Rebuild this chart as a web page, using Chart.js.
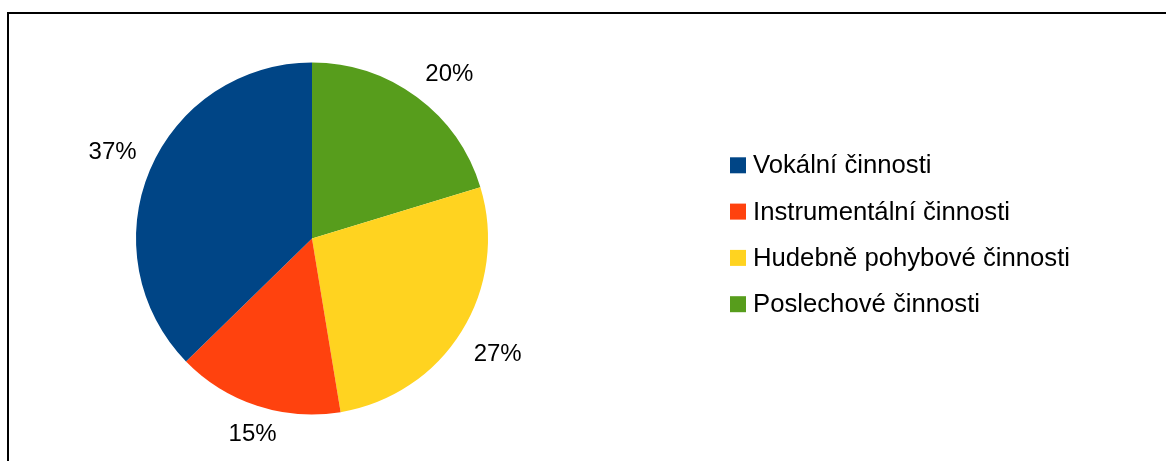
<!DOCTYPE html>
<html>
<head>
<meta charset="utf-8">
<script src="https://cdn.jsdelivr.net/npm/chart.js@4/dist/chart.umd.min.js"></script>
<style>
html,body{margin:0;padding:0;background:#fff;}
#wrap{position:relative;width:1166px;height:461px;}
canvas{display:block;}
</style>
</head>
<body>
<div id="wrap"><canvas id="c" width="1166" height="461"></canvas></div>
<script>
// Data (clockwise from top, as drawn)
const categories = ["Poslechové činnosti", "Hudebně pohybové činnosti", "Instrumentální činnosti", "Vokální činnosti"];
const values = [20.3, 27.1, 15.3, 37.3];
const colors = ["#579d1c", "#ffd320", "#ff420e", "#004586"];
// Legend order (top to bottom)
const legendOrder = ["Vokální činnosti", "Instrumentální činnosti", "Hudebně pohybové činnosti", "Poslechové činnosti"];

const FONT = '"Liberation Sans", Arial, sans-serif';

const framePlugin = {
  id: 'frame',
  beforeDraw(chart) {
    const ctx = chart.ctx;
    ctx.save();
    ctx.fillStyle = '#fff';
    ctx.fillRect(0, 0, chart.width, chart.height);
    ctx.fillStyle = '#000';
    ctx.fillRect(7, 12, chart.width - 7, 2);
    ctx.fillRect(7, 12, 2, chart.height - 12);
    ctx.restore();
  }
};

const labelPlugin = {
  id: 'outLabels',
  afterDatasetsDraw(chart) {
    const ctx = chart.ctx;
    const meta = chart.getDatasetMeta(0);
    const data = chart.data.datasets[0].data;
    const total = data.reduce((a, b) => a + b, 0);
    const fs = 24;
    const asc = 0.905 * fs, desc = 0.212 * fs, H = asc + desc;
    ctx.save();
    ctx.font = fs + 'px ' + FONT;
    ctx.fillStyle = '#000';
    ctx.textAlign = 'left';
    ctx.textBaseline = 'alphabetic';
    // [horizontal, vertical] position of the anchor within the text box
    const align = [[0.5,1],[0,1],[0,0.5],[0,0],[0.5,0],[1,0],[1,0.5],[1,1]];
    meta.data.forEach((arc, i) => {
      const mid = (arc.startAngle + arc.endAngle) / 2;
      let theta = (mid + Math.PI / 2) * 180 / Math.PI;
      theta = ((theta % 360) + 360) % 360;
      const sector = Math.round(theta / 45) % 8;
      const txt = Math.round(data[i] / total * 100) + '%';
      const w = ctx.measureText(txt).width;
      const d = arc.outerRadius + 14.3;
      const ax = arc.x + Math.cos(mid) * d;
      const ay = arc.y + Math.sin(mid) * d;
      const [hx, vy] = align[sector];
      const x = ax - hx * w;
      const top = ay - vy * H;
      ctx.fillText(txt, x, top + asc);
    });
    ctx.restore();
  }
};

const legendPlugin = {
  id: 'customLegend',
  afterDraw(chart) {
    const ctx = chart.ctx;
    ctx.save();
    ctx.font = '25.7px ' + FONT;
    ctx.textBaseline = 'middle';
    ctx.textAlign = 'left';
    legendOrder.forEach((name, k) => {
      const i = chart.data.labels.indexOf(name);
      const y = 165.3 + k * 46.3;
      ctx.fillStyle = chart.data.datasets[0].backgroundColor[i];
      ctx.fillRect(730, y - 8, 16, 16);
      ctx.fillStyle = '#000';
      ctx.fillText(name, 753, y + 1);
    });
    ctx.restore();
  }
};

new Chart(document.getElementById('c'), {
  type: 'pie',
  data: {
    labels: categories,
    datasets: [{
      data: values,
      backgroundColor: colors,
      borderWidth: 0
    }]
  },
  options: {
    responsive: false,
    animation: false,
    layout: { padding: { left: 136, right: 678, top: 62.5, bottom: 46.5 } },
    plugins: {
      legend: { display: false },
      tooltip: { enabled: false }
    }
  },
  plugins: [framePlugin, labelPlugin, legendPlugin]
});
</script>
</body>
</html>
